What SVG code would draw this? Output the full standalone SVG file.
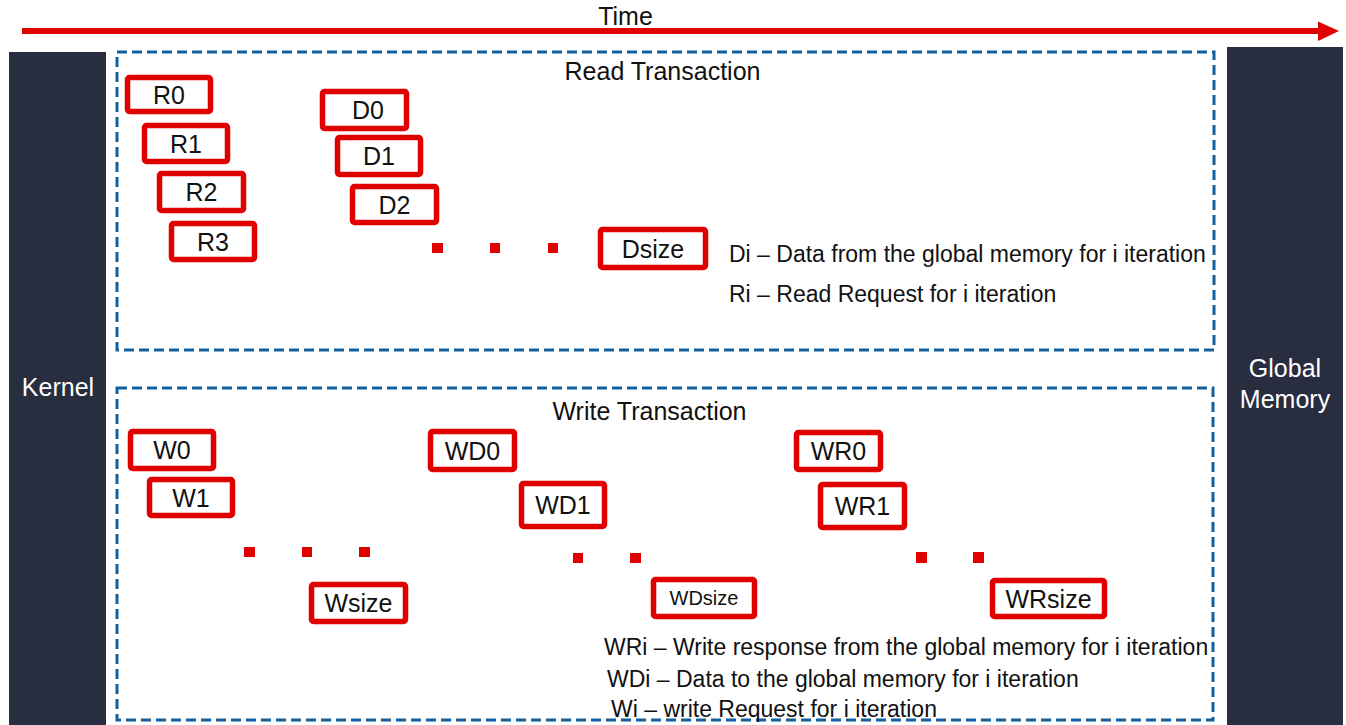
<svg xmlns="http://www.w3.org/2000/svg" width="1346" height="725" viewBox="0 0 1346 725">
<defs>
<style>
text{font-family:"Liberation Sans",Arial,sans-serif;fill:#111;}
.bar{fill:#282D3F;}
.bt{fill:#fff;font-size:25px;text-anchor:middle;}
.dash{fill:none;stroke:#13609E;stroke-width:3;stroke-dasharray:10 5;}
.box{fill:#fff;stroke:#E00000;stroke-width:5.5;}
.lbl{font-size:25px;text-anchor:middle;}
.hdr{font-size:25px;text-anchor:middle;}
.leg{font-size:23px;}
.dot{fill:#E00000;}
</style>
</defs>
<rect width="1346" height="725" fill="#fff"/>
<g id="connectors">
<line x1="22" y1="31" x2="1320" y2="31" stroke="#E00000" stroke-width="6"/>
<polygon points="1318,21.5 1339,31 1318,41" fill="#E00000"/>
</g>
<text class="hdr" x="625.5" y="25">Time</text>
<g id="kernel"><rect class="bar" x="9" y="52" width="97" height="673"/><text class="bt" x="58" y="396">Kernel</text></g>
<g id="global-memory"><rect class="bar" x="1227" y="47" width="116" height="678"/><text class="bt" x="1285" y="377">Global</text><text class="bt" x="1285" y="408">Memory</text></g>
<g id="read-transaction"><rect class="dash" x="117" y="52" width="1097" height="298"/><text class="hdr" x="662.5" y="80">Read Transaction</text></g>
<g id="write-transaction"><rect class="dash" x="117" y="388" width="1096" height="332"/><text class="hdr" x="649.5" y="420">Write Transaction</text></g>
<g id="R0"><rect class="box" x="127.5" y="77.5" width="83" height="34" rx="2"/><text class="lbl" x="169" y="104">R0</text></g>
<g id="R1"><rect class="box" x="144.5" y="125.5" width="83" height="36" rx="2"/><text class="lbl" x="186" y="153">R1</text></g>
<g id="R2"><rect class="box" x="159.5" y="173.5" width="84" height="37" rx="2"/><text class="lbl" x="201.5" y="201">R2</text></g>
<g id="R3"><rect class="box" x="171.5" y="223.5" width="83" height="36" rx="2"/><text class="lbl" x="213" y="251">R3</text></g>
<g id="D0"><rect class="box" x="322.5" y="91.5" width="84" height="37" rx="2"/><text class="lbl" x="368" y="119">D0</text></g>
<g id="D1"><rect class="box" x="337.5" y="137.5" width="83" height="37" rx="2"/><text class="lbl" x="379" y="165">D1</text></g>
<g id="D2"><rect class="box" x="352.5" y="186.5" width="84" height="36" rx="2"/><text class="lbl" x="394.5" y="213.5">D2</text></g>
<g id="read-dots"><rect class="dot" x="432" y="243" width="11" height="10"/><rect class="dot" x="490" y="243" width="10" height="10"/><rect class="dot" x="548" y="243" width="10" height="10"/></g>
<g id="Dsize"><rect class="box" x="600.5" y="229.5" width="105" height="38" rx="2"/><text class="lbl" x="653" y="257.5">Dsize</text></g>
<g id="read-legend"><text class="leg" x="729" y="262">Di – Data from the global memory for i iteration</text><text class="leg" x="729" y="302">Ri – Read Request for i iteration</text></g>
<g id="W0"><rect class="box" x="130.5" y="431.5" width="83" height="37" rx="2"/><text class="lbl" x="172" y="459">W0</text></g>
<g id="W1"><rect class="box" x="149.5" y="479.5" width="83" height="36" rx="2"/><text class="lbl" x="191" y="506.5">W1</text></g>
<g id="w-dots"><rect class="dot" x="244" y="547" width="11" height="10"/><rect class="dot" x="302" y="547" width="10" height="10"/><rect class="dot" x="359" y="547" width="11" height="10"/></g>
<g id="Wsize"><rect class="box" x="311.5" y="584.5" width="94" height="37" rx="2"/><text class="lbl" x="358.5" y="612">Wsize</text></g>
<g id="WD0"><rect class="box" x="430.5" y="431.5" width="84" height="38" rx="2"/><text class="lbl" x="472.5" y="459.5">WD0</text></g>
<g id="WD1"><rect class="box" x="521.5" y="483.5" width="83" height="43" rx="2"/><text class="lbl" x="563" y="514">WD1</text></g>
<g id="wd-dots"><rect class="dot" x="573" y="553" width="10" height="10"/><rect class="dot" x="630" y="553" width="11" height="10"/></g>
<g id="WDsize"><rect class="box" x="653.5" y="579.5" width="101" height="37" rx="2"/><text class="lbl" x="704" y="605" style="font-size:20px">WDsize</text></g>
<g id="WR0"><rect class="box" x="796.5" y="432.5" width="84" height="37" rx="2"/><text class="lbl" x="838.5" y="460">WR0</text></g>
<g id="WR1"><rect class="box" x="820.5" y="484.5" width="84" height="43" rx="2"/><text class="lbl" x="862.5" y="515">WR1</text></g>
<g id="wr-dots"><rect class="dot" x="916" y="552" width="11" height="11"/><rect class="dot" x="973" y="552" width="11" height="11"/></g>
<g id="WRsize"><rect class="box" x="992.5" y="580.5" width="112" height="36" rx="2"/><text class="lbl" x="1048.5" y="607.5">WRsize</text></g>
<g id="write-legend"><text class="leg" x="604" y="655">WRi – Write response from the global memory for i iteration</text><text class="leg" x="607" y="687">WDi – Data to the global memory for i iteration</text><text class="leg" x="611" y="717">Wi – write Request for i iteration</text></g>
</svg>
